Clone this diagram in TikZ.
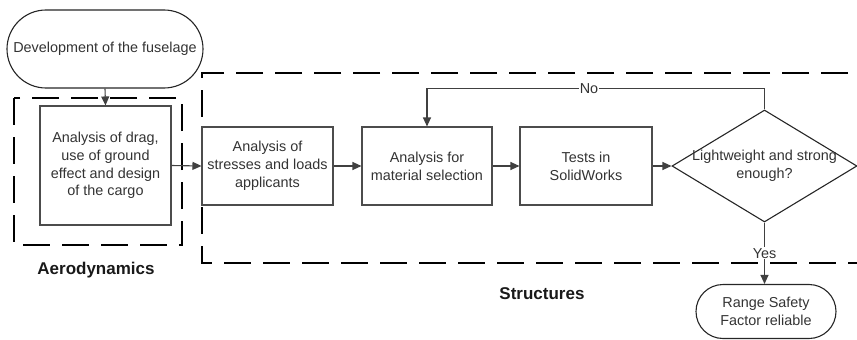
\documentclass[tikz,border=0pt]{standalone}
\usepackage{fontspec}
\setmainfont{Liberation Sans}
\usetikzlibrary{shapes.geometric,arrows.meta,positioning}
\tikzstyle{box}=[rectangle, draw=black!70, line width=1.1pt, align=center, text=black!80, font=\fontsize{14.4}{17.8}\selectfont, inner sep=0pt, anchor=center]
\tikzstyle{term}=[box, draw=black!85]
\tikzstyle{group}=[draw=black, line width=1.3pt, dash pattern=on 27pt off 12pt]
\tikzstyle{annot}=[align=center, font=\bfseries\fontsize{17}{20}\selectfont, text=black!90]
\tikzstyle{flow}=[draw=black!75, line width=1.1pt, -{Triangle[length=9pt,width=8pt]}]
\tikzstyle{lbl}=[fill=white, inner sep=1pt, text=black!80, font=\fontsize{14.4}{16}\selectfont]

\begin{document}
\begin{tikzpicture}[x=1pt,y=-1pt]
	\useasboundingbox (0,0) rectangle (857,340);

	% dashed groups
	\draw[group] (14,98) rectangle (182,245);
	\draw[group] (848,73) -- (202,73) -- (202,263) -- (857,263);

	\node[term, minimum width=196pt, minimum height=78pt, rounded corners=39pt] (fuselage) at (105,49) {Development of the fuselage};
	\node[box, minimum width=131pt, minimum height=119pt] (drag) at (105.5,165.5) {Analysis of drag,\\use of ground\\effect and design\\of the cargo};
	\node[box, minimum width=131pt, minimum height=78pt] (stresses) at (267.5,166) {Analysis of\\stresses and loads\\applicants};
	\node[box, minimum width=130pt, minimum height=78pt] (material) at (427,166) {Analysis for\\material selection};
	\node[box, minimum width=132pt, minimum height=78pt] (tests) at (586,166) {Tests in\\SolidWorks};
	\node[diamond, draw=black!85, line width=1.1pt, minimum width=185pt, minimum height=112pt, inner sep=0pt] (check) at (764.5,166) {};
	\node[align=center, text=black!80, font=\fontsize{14.4}{17.8}\selectfont] (checktext) at (check.center) {Lightweight and strong\\enough?};
	\node[term, minimum width=140pt, minimum height=54pt, rounded corners=27pt] (safety) at (766,311.5) {Range Safety\\Factor reliable};

	% connectors
	\draw[flow] (fuselage.south) -- (drag.north);
	\draw[flow] (drag.east) -- (stresses.west);
	\draw[flow] (stresses.east) -- (material.west);
	\draw[flow] (material.east) -- (tests.west);
	\draw[flow] (tests.east) -- (check.west);
	\draw[flow] (check.north) -- ++(0,-21) -| node[lbl, pos=0.26] {No} (material.north);
	\draw[flow] (check.south) -- node[lbl, pos=0.5] {Yes} (check.south |- safety.north);

	\node[annot] (aero) at (96,270) {Aerodynamics};
	\node[annot] (struct) at (542,294) {Structures};

\end{tikzpicture}
\end{document}
